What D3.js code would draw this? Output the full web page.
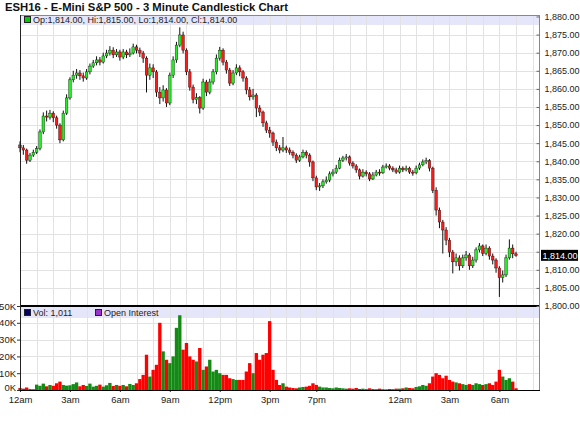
<!DOCTYPE html>
<html>
<head>
<meta charset="utf-8">
<script src="https://cdn.jsdelivr.net/npm/d3@7"></script>
<style>
  body { margin: 0; background: #fff; }
  svg text { font-family: "Liberation Sans", Arial, sans-serif; }
</style>
</head>
<body>
<svg id="chart" width="580" height="424"></svg>
<script>
// 12-minute bars (open = previous close)
const firstOpen = 1844.5;
const closes = [
  1843.7, 1843.1, 1840.3, 1841.7, 1842.5, 1843.5, 1848.1, 1852.5, 1852.2, 1853.3,
  1852.0, 1850.0, 1845.9, 1853.3, 1857.5, 1862.5, 1863.8, 1864.4, 1863.6, 1863.0,
  1864.7, 1866.3, 1867.2, 1868.0, 1867.4, 1869.1, 1869.9, 1870.7, 1869.4, 1870.2,
  1868.8, 1870.2, 1869.4, 1869.9, 1871.6, 1870.7, 1869.9, 1868.5, 1863.8, 1865.8,
  1864.7, 1859.1, 1857.5, 1859.7, 1856.1, 1863.8, 1868.0, 1872.1, 1874.9, 1870.7,
  1864.7, 1860.5, 1857.0, 1857.6, 1854.7, 1861.9, 1859.1, 1861.9, 1864.7, 1868.5,
  1870.7, 1867.4, 1865.2, 1861.6, 1864.4, 1865.8, 1864.7, 1863.0, 1859.7, 1857.8,
  1858.3, 1854.7, 1853.6, 1850.6, 1848.6, 1847.8, 1845.3, 1843.7, 1843.1, 1843.7,
  1843.1, 1842.5, 1841.7, 1840.3, 1841.2, 1842.5, 1841.7, 1839.8, 1835.4, 1832.9,
  1833.2, 1834.3, 1834.8, 1836.5, 1837.0, 1838.1, 1840.3, 1840.9, 1841.2, 1839.5,
  1838.7, 1837.6, 1835.9, 1837.0, 1836.5, 1835.1, 1836.2, 1837.0, 1836.8, 1838.4,
  1838.7, 1838.1, 1837.6, 1837.0, 1838.1, 1837.6, 1838.1, 1837.0, 1836.8, 1838.1,
  1839.0, 1839.8, 1840.2, 1838.1, 1832.0, 1826.5, 1823.2, 1821.0, 1818.2, 1814.9,
  1812.2, 1813.3, 1811.1, 1813.3, 1814.1, 1811.1, 1812.7, 1815.5, 1816.6, 1814.6,
  1816.0, 1813.8, 1812.7, 1810.5, 1807.8, 1808.6, 1813.3, 1816.0, 1814.4, 1814.0
];
const highs = [
  1845.5, 1844.5, 1843.5, 1842.3, 1843.2, 1844.2, 1848.8, 1853.5, 1854.0, 1854.2,
  1853.8, 1852.6, 1850.5, 1854.0, 1858.5, 1863.2, 1865.0, 1865.5, 1865.2, 1864.5,
  1865.5, 1867.0, 1868.0, 1869.0, 1868.8, 1870.0, 1870.8, 1871.8, 1871.5, 1871.0,
  1870.8, 1871.0, 1870.8, 1871.2, 1872.5, 1872.2, 1871.4, 1870.5, 1869.0, 1867.0,
  1866.8, 1865.2, 1860.5, 1861.0, 1860.2, 1864.5, 1869.0, 1873.0, 1877.0, 1875.8,
  1871.2, 1865.5, 1861.2, 1858.8, 1858.0, 1862.8, 1862.5, 1862.8, 1865.5, 1869.5,
  1871.6, 1871.2, 1868.0, 1865.8, 1865.2, 1866.8, 1866.5, 1865.2, 1863.5, 1860.5,
  1860.0, 1858.8, 1855.5, 1854.0, 1851.2, 1849.5, 1848.2, 1846.0, 1844.5, 1846.7,
  1844.3, 1843.8, 1843.0, 1842.2, 1841.8, 1843.2, 1843.0, 1842.2, 1840.2, 1836.0,
  1834.0, 1835.0, 1835.8, 1837.2, 1837.8, 1839.0, 1841.0, 1841.5, 1842.0, 1841.6,
  1840.0, 1839.2, 1838.0, 1837.8, 1837.5, 1837.0, 1837.0, 1837.6, 1837.8, 1839.0,
  1839.4, 1839.2, 1838.6, 1838.2, 1838.8, 1838.6, 1838.8, 1838.5, 1837.6, 1838.8,
  1839.6, 1840.5, 1841.0, 1840.6, 1838.5, 1832.8, 1827.2, 1823.8, 1821.8, 1818.8,
  1815.5, 1814.5, 1814.0, 1814.2, 1815.2, 1814.6, 1813.6, 1816.2, 1817.4, 1817.0,
  1817.0, 1816.5, 1814.5, 1813.2, 1811.0, 1809.8, 1814.2, 1818.4, 1817.0, 1815.0
];
const lows = [
  1842.5, 1841.8, 1839.3, 1839.8, 1841.2, 1842.0, 1843.0, 1847.5, 1851.0, 1851.5,
  1850.8, 1849.0, 1845.0, 1845.5, 1852.8, 1857.0, 1861.8, 1862.8, 1862.5, 1862.0,
  1862.5, 1864.0, 1865.8, 1866.5, 1866.5, 1867.0, 1868.5, 1869.2, 1868.5, 1868.8,
  1867.8, 1868.2, 1868.5, 1868.8, 1869.5, 1869.8, 1868.8, 1867.2, 1859.0, 1862.5,
  1863.0, 1857.8, 1855.8, 1856.5, 1855.0, 1855.5, 1863.0, 1867.2, 1871.5, 1869.8,
  1863.8, 1859.5, 1856.0, 1855.8, 1853.2, 1854.2, 1858.0, 1858.5, 1861.2, 1864.0,
  1867.8, 1866.5, 1864.2, 1860.8, 1861.0, 1863.8, 1863.5, 1862.0, 1858.5, 1856.8,
  1857.0, 1852.2, 1852.5, 1849.5, 1847.8, 1846.5, 1844.2, 1842.8, 1842.2, 1842.5,
  1842.3, 1841.8, 1840.8, 1839.5, 1839.8, 1840.8, 1840.8, 1838.5, 1834.5, 1832.0,
  1831.8, 1832.6, 1833.8, 1834.2, 1835.8, 1836.5, 1837.8, 1839.8, 1840.2, 1838.8,
  1838.0, 1836.8, 1835.0, 1835.5, 1835.8, 1834.5, 1834.8, 1835.8, 1836.0, 1836.5,
  1838.0, 1837.5, 1837.0, 1836.5, 1836.6, 1837.0, 1837.2, 1836.5, 1836.0, 1836.4,
  1837.6, 1838.6, 1839.2, 1837.2, 1831.2, 1825.0, 1821.5, 1814.5, 1816.8, 1813.5,
  1809.0, 1811.0, 1809.8, 1810.5, 1812.5, 1810.0, 1810.5, 1812.0, 1814.8, 1813.8,
  1814.0, 1812.8, 1811.5, 1809.2, 1802.5, 1806.5, 1808.0, 1812.8, 1813.2, 1813.6
];
// volume per bar, thousands
const volumes = [
  1.2, 0.8, 1.5, 0.6, 0.5, 3.2, 2.5, 3.8, 2.2, 3.0,
  2.5, 4.0, 5.0, 3.0, 2.6, 2.8, 3.5, 4.5, 2.2, 3.0,
  2.4, 3.8, 2.0, 2.5, 3.2, 2.0, 2.8, 4.2, 2.4, 3.0,
  2.5, 3.0, 2.2, 3.6, 3.0, 4.0, 6.5, 9.0, 21.0, 8.0,
  12.0, 15.0, 40.0, 23.0, 18.0, 16.0, 20.0, 37.0, 44.5, 24.0,
  28.0, 20.0, 18.0, 17.0, 25.0, 12.0, 14.0, 18.0, 11.0, 12.0,
  10.0, 9.0, 9.0, 7.0, 6.5, 6.0, 6.0, 6.0, 11.0, 16.0,
  10.0, 22.0, 18.0, 21.0, 22.0, 41.0, 12.0, 6.0, 3.0, 4.0,
  2.0, 1.5, 1.2, 1.0, 1.5, 1.8, 2.0, 2.5, 4.0, 3.0,
  2.0, 1.5, 1.5, 1.2, 1.0, 1.5, 1.2, 1.0, 0.8, 1.0,
  0.8, 1.2, 0.6, 0.8, 0.5, 1.0, 0.6, 0.5, 0.8, 0.5,
  0.4, 0.6, 0.5, 0.8, 0.8, 1.0, 1.5, 1.2, 1.0, 1.8,
  2.2, 3.0, 2.5, 4.0, 8.0, 10.0, 9.0, 7.0, 8.5, 6.0,
  5.0, 4.5, 4.0, 3.5, 3.0, 3.5, 3.0, 4.0, 3.5, 3.0,
  3.5, 4.0, 3.0, 5.0, 12.0, 8.0, 6.0, 7.0, 5.0, 1.011
];

const timeTicks = [0, 15, 30, 45, 60, 75, 89, 114, 129, 144];
const timeLabels = ["12am", "3am", "6am", "9am", "12pm", "3pm", "7pm", "12am", "3am", "6am"];
const hourLines = [0, 5, 10, 15, 20, 25, 30, 35, 40, 45, 50, 55, 60, 65, 70, 75, 80, 84,
  89, 94, 99, 104, 109, 114, 119, 124, 129, 134, 139, 144, 149, 154];
const priceTicks = d3.range(1800, 1881, 5);
const volTicks = [0, 10, 20, 30, 40, 50];

const lastText = "Op:1,814.00, Hi:1,815.00, Lo:1,814.00, Cl:1,814.00";
const volText = "Vol: 1,011";

const bars = closes.map((c, i) => ({
  i: i,
  open: i === 0 ? firstOpen : closes[i - 1],
  close: c,
  high: highs[i],
  low: lows[i],
  vol: volumes[i]
}));

const svg = d3.select("#chart");
const left = 20, right = 539;
const priceTop = 15, priceBottom = 306, volBottom = 390;

const x = d3.scaleLinear().domain([0, 155.9]).range([left, right]);
const y = d3.scaleLinear().domain([1800, 1880]).range([priceBottom, 16.5]);
const yv = d3.scaleLinear().domain([0, 50]).range([volBottom, priceBottom]);
const step = x(1) - x(0);

const upColor = "#22ee22", downColor = "#ff1a1a";
const volUp = "#138a13", volDown = "#ff0000";
const lastClose = closes[closes.length - 1];

// title
svg.append("text")
  .attr("x", 5).attr("y", 11)
  .attr("font-size", 11.3).attr("font-weight", "bold").attr("fill", "#111")
  .text("ESH16 - E-Mini S&P 500 - 3 Minute Candlestick Chart");

// header bands
svg.append("rect").attr("x", left).attr("y", priceTop).attr("width", right - left).attr("height", 10)
  .attr("fill", "#e6e6fb");
svg.append("rect").attr("x", left).attr("y", priceBottom + 1).attr("width", right - left).attr("height", 11)
  .attr("fill", "#e6e6fb");

// grid
const grid = svg.append("g").attr("stroke", "#e2e2e2").attr("stroke-width", 1);
grid.selectAll(".hx").data(hourLines).join("line")
  .attr("x1", d => Math.round(x(d)) + 0.5).attr("x2", d => Math.round(x(d)) + 0.5)
  .attr("y1", priceTop).attr("y2", volBottom);
grid.selectAll(".hy").data(priceTicks.slice(1, -1)).join("line")
  .attr("x1", left).attr("x2", right)
  .attr("y1", d => Math.round(y(d)) + 0.5).attr("y2", d => Math.round(y(d)) + 0.5);
grid.selectAll(".vy").data(volTicks.slice(1, -1)).join("line")
  .attr("x1", left).attr("x2", right)
  .attr("y1", d => Math.round(yv(d)) + 0.5).attr("y2", d => Math.round(yv(d)) + 0.5);

// legends
svg.append("rect").attr("x", 24.5).attr("y", 16.5).attr("width", 6).attr("height", 6)
  .attr("fill", "#00cc00").attr("stroke", "#222");
svg.append("text").attr("x", 33).attr("y", 23).attr("font-size", 9).attr("fill", "#222").text(lastText);
svg.append("rect").attr("x", 24.5).attr("y", 309.5).attr("width", 6).attr("height", 6)
  .attr("fill", "#000066").attr("stroke", "#222");
svg.append("text").attr("x", 33).attr("y", 316).attr("font-size", 9).attr("fill", "#222").text(volText);
svg.append("rect").attr("x", 95.5).attr("y", 309.5).attr("width", 6).attr("height", 6)
  .attr("fill", "#9933cc").attr("stroke", "#222");
svg.append("text").attr("x", 104).attr("y", 316).attr("font-size", 9).attr("fill", "#222").text("Open Interest");

// volume bars
svg.append("g").selectAll("rect").data(bars).join("rect")
  .attr("x", d => x(d.i) - step / 2)
  .attr("width", step)
  .attr("y", d => yv(d.vol))
  .attr("height", d => volBottom - yv(d.vol))
  .attr("fill", d => d.close >= d.open ? volUp : volDown);

// candles
const candles = svg.append("g");
candles.selectAll("line").data(bars).join("line")
  .attr("x1", d => x(d.i)).attr("x2", d => x(d.i))
  .attr("y1", d => y(d.high)).attr("y2", d => y(d.low))
  .attr("stroke", "#111").attr("stroke-width", 1);
candles.selectAll("rect").data(bars).join("rect")
  .attr("x", d => x(d.i) - 1.3)
  .attr("width", 2.6)
  .attr("y", d => y(Math.max(d.open, d.close)))
  .attr("height", d => Math.max(1, Math.abs(y(d.open) - y(d.close))))
  .attr("fill", d => d.close >= d.open ? upColor : downColor)
  .attr("stroke", "#111").attr("stroke-width", 0.4);

// frame
svg.append("line").attr("x1", left).attr("x2", right).attr("y1", priceTop + 0.5).attr("y2", priceTop + 0.5)
  .attr("stroke", "#888");
svg.append("line").attr("x1", right + 0.5).attr("x2", right + 0.5).attr("y1", priceTop).attr("y2", volBottom)
  .attr("stroke", "#888");
svg.append("line").attr("x1", left).attr("x2", right).attr("y1", priceBottom).attr("y2", priceBottom)
  .attr("stroke", "#000").attr("stroke-width", 2);

// price axis (right); the label nearest the last price gives way to the marker
const yAxis = svg.append("g").attr("transform", `translate(${right + 0.5},0)`)
  .call(d3.axisRight(y).tickValues(priceTicks)
    .tickFormat(d => Math.abs(d - lastClose) < 3 ? "" : d3.format(",.2f")(d))
    .tickSize(3).tickPadding(2));
yAxis.select(".domain").remove();
yAxis.selectAll("line").attr("stroke", "#666").attr("x1", -3).attr("x2", 0);
yAxis.selectAll("text").attr("font-size", 9).attr("fill", "#222").attr("font-family", "Liberation Sans, Arial");

// last price marker
const lastY = y(lastClose);
svg.append("rect").attr("x", 541).attr("y", lastY - 5.5).attr("width", 37).attr("height", 11).attr("fill", "#000");
svg.append("text").attr("x", 542.5).attr("y", lastY + 3.2).attr("font-size", 9).attr("fill", "#fff")
  .text(d3.format(",.2f")(lastClose));

// volume axis (left)
const vAxis = svg.append("g").attr("transform", `translate(${left},0)`)
  .call(d3.axisLeft(yv).tickValues(volTicks).tickFormat(d => d + "K").tickSize(3).tickPadding(1));
vAxis.select(".domain").remove();
vAxis.selectAll("line").attr("stroke", "#333");
vAxis.selectAll("text").attr("font-size", 9.5).attr("fill", "#222").attr("font-family", "Liberation Sans, Arial")
  .attr("dy", d => d === 0 ? "0.1em" : "0.32em");

// time axis
const xAxis = svg.append("g").attr("transform", `translate(0,${volBottom})`)
  .call(d3.axisBottom(x).tickValues(timeTicks).tickFormat((d, k) => timeLabels[k]).tickSize(2).tickPadding(4));
xAxis.select(".domain").remove();
xAxis.selectAll("line").attr("stroke", "#333");
xAxis.selectAll("text").attr("font-size", 9.5).attr("fill", "#222").attr("font-family", "Liberation Sans, Arial");

svg.append("line").attr("x1", left).attr("x2", right + 1).attr("y1", volBottom + 0.5).attr("y2", volBottom + 0.5)
  .attr("stroke", "#000");
svg.append("line").attr("x1", left + 0.5).attr("x2", left + 0.5).attr("y1", priceTop).attr("y2", volBottom)
  .attr("stroke", "#222");
</script>
</body>
</html>
